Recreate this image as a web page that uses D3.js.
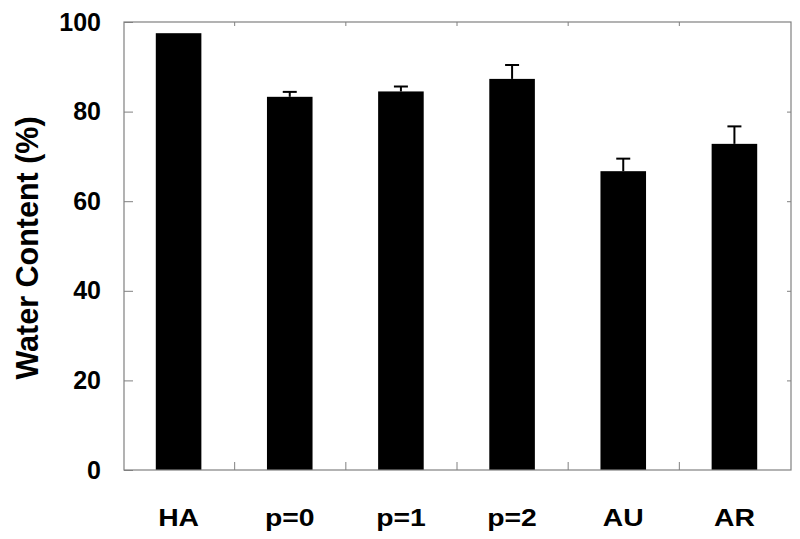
<!DOCTYPE html>
<html><head><meta charset="utf-8">
<script src="https://cdn.jsdelivr.net/npm/d3@7"></script>
<style>body{margin:0;background:#fff}svg{display:block}</style>
</head><body>
<svg id="c" width="800" height="539"></svg>
<script>
const categories = ["HA","p=0","p=1","p=2","AU","AR"];
const values = [97.5, 83.3, 84.5, 87.3, 66.7, 72.8];
const errors = [0, 1.1, 1.1, 3.1, 2.8, 3.9];
const yTicks = [0,20,40,60,80,100];

const svg = d3.select("#c");
const L=124, R=791, T=22, B=470;
const x = d3.scaleBand().domain(categories).range([L,R]).paddingInner(0.59).paddingOuter(0.295);
const y = d3.scaleLinear().domain([0,100]).range([B,T]);
const font = "'Liberation Sans', Arial, sans-serif";
const grey = "#808080";

// bars
svg.append("g").selectAll("rect").data(categories).join("rect")
  .attr("x", d=>x(d)-1).attr("width", x.bandwidth())
  .attr("y", (d,i)=>y(values[i])).attr("height", (d,i)=>B-y(values[i]))
  .attr("fill","#000");

// error bars (upper only)
const eg = svg.append("g").attr("stroke","#000").attr("stroke-width",2);
categories.forEach((c,i)=>{
  if(!errors[i]) return;
  const cx = x(c)-1 + x.bandwidth()/2;
  eg.append("line").attr("x1",cx).attr("x2",cx).attr("y1",y(values[i])).attr("y2",y(values[i]+errors[i]));
  eg.append("line").attr("x1",cx-7).attr("x2",cx+7).attr("y1",y(values[i]+errors[i])).attr("y2",y(values[i]+errors[i]));
});

// frame
svg.append("rect").attr("x",L).attr("y",T).attr("width",R-L).attr("height",B-T)
  .attr("fill","none").attr("stroke",grey).attr("stroke-width",1.2);

// axes
const yAxisL = d3.axisLeft(y).tickValues(yTicks).tickSizeInner(-9).tickSizeOuter(0).tickPadding(23);
const gy = svg.append("g").attr("transform",`translate(${L},0)`).call(yAxisL);
gy.select(".domain").remove();
gy.selectAll(".tick line").attr("stroke",grey);
gy.selectAll(".tick text").attr("font-family",font).attr("font-weight","bold").attr("font-size",25).attr("fill","#000");

const yAxisR = d3.axisRight(y).tickValues(yTicks.filter(v=>v>0 && v<100)).tickSize(-4).tickFormat("");
const gyr = svg.append("g").attr("transform",`translate(${R},0)`).call(yAxisR);
gyr.select(".domain").remove();
gyr.selectAll(".tick line").attr("stroke",grey);

// category boundary ticks
const bounds = categories.slice(1).map(c=>x(c)-x.step()*x.paddingInner()/2 - 1 );
const xb = d3.scaleLinear().domain([L,R]).range([L,R]);
const gxb = svg.append("g").attr("transform",`translate(0,${B})`).call(d3.axisBottom(xb).tickValues(bounds).tickSize(-8).tickFormat(""));
gxb.select(".domain").remove();
gxb.selectAll(".tick line").attr("stroke",grey);
const gxt = svg.append("g").attr("transform",`translate(0,${T})`).call(d3.axisTop(xb).tickValues(bounds).tickSize(-4).tickFormat(""));
gxt.select(".domain").remove();
gxt.selectAll(".tick line").attr("stroke",grey);

// category labels
const gx = svg.append("g").attr("transform",`translate(0,${B})`)
  .call(d3.axisBottom(x).tickSize(0).tickPadding(0).tickFormat(""));
gx.select(".domain").remove();
gx.selectAll(".tick").append("text")
  .attr("transform","translate(-1,56) scale(1.18,1)")
  .attr("text-anchor","middle")
  .attr("font-family",font).attr("font-weight","bold").attr("font-size",24).attr("fill","#000")
  .text(d=>d);

// y label
svg.append("text").attr("transform","translate(38,248) rotate(-90)")
  .attr("text-anchor","middle").attr("font-family",font).attr("font-weight","bold")
  .attr("font-size",30.5).text("Water Content (%)");
</script>
</body></html>
